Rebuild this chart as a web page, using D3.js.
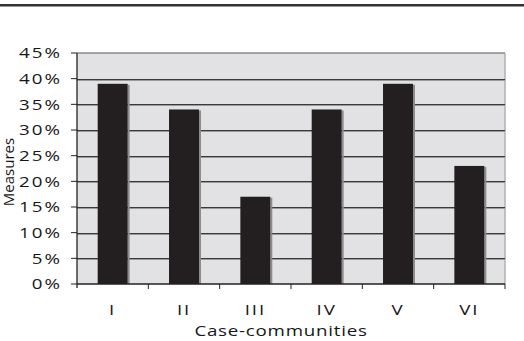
<!DOCTYPE html>
<html>
<head>
<meta charset="utf-8">
<script src="https://cdn.jsdelivr.net/npm/d3@7"></script>
<style>
body{margin:0;background:#fff;}
text{font-family:"Open Sans",sans-serif;fill:#161616;}
</style>
</head>
<body>
<div id="graph"></div>
<script>
var width=524;
var height=341;

// data
var communities=['I','II','III','IV','V','VI'];
var measures=[0.39,0.34,0.17,0.34,0.39,0.23];
var yTicks=[0,0.05,0.10,0.15,0.20,0.25,0.30,0.35,0.40,0.45];
var yTitle='Measures';
var xTitle='Case-communities';

var plotL=77,plotR=505,plotT=53,plotB=284;
var stretch=1.25; // the lettering in the original is a bit wide

var svg=d3.select('#graph').append('svg').attr('width',width).attr('height',height);

// rule at the very top
svg.append('line').attr('x1',0).attr('x2',width).attr('y1',5.3).attr('y2',5.3)
	.attr('stroke','#333').attr('stroke-width',2.6);

var x=d3.scaleBand().domain(communities).range([plotL,plotR]);
var y=d3.scaleLinear().domain([0,0.45]).range([plotB,plotT]);

// plot background
svg.append('rect').attr('x',plotL).attr('y',plotT).attr('width',plotR-plotL).attr('height',plotB-plotT)
	.attr('fill','#e2e2e4');
// right + top border
svg.append('line').attr('x1',plotR).attr('x2',plotR).attr('y1',plotT).attr('y2',plotB)
	.attr('stroke','#b0b0b0').attr('stroke-width',1.5);
svg.append('line').attr('x1',plotL).attr('x2',plotR).attr('y1',y(0.45)).attr('y2',y(0.45))
	.attr('stroke','#8a8a8a').attr('stroke-width',1.5);

// gridlines with a faint shadow
var grid=yTicks.filter(function(d){return d>0&&d<0.45;});
svg.selectAll('.gshadow').data(grid).enter().append('line').attr('class','gshadow')
	.attr('x1',plotL).attr('x2',plotR)
	.attr('y1',function(d){return Math.round(y(d))+1.5;}).attr('y2',function(d){return Math.round(y(d))+1.5;})
	.attr('stroke','#999').attr('stroke-width',1);
svg.selectAll('.grid').data(grid).enter().append('line').attr('class','grid')
	.attr('x1',plotL).attr('x2',plotR)
	.attr('y1',function(d){return Math.round(y(d))+0.5;}).attr('y2',function(d){return Math.round(y(d))+0.5;})
	.attr('stroke','#3a3a3a').attr('stroke-width',1);

// bars
var bw=x.bandwidth()*0.42;
svg.selectAll('.shadow').data(measures).enter().append('rect').attr('class','shadow')
	.attr('x',function(d,i){return x(communities[i])+x.bandwidth()/2+bw/2;})
	.attr('y',function(d){return y(d)+1;})
	.attr('width',2)
	.attr('height',function(d){return plotB-y(d)-1;})
	.attr('fill','#8c8c8c');
svg.selectAll('.bar').data(measures).enter().append('rect').attr('class','bar')
	.attr('x',function(d,i){return x(communities[i])+x.bandwidth()/2-bw/2;})
	.attr('y',function(d){return y(d);})
	.attr('width',bw)
	.attr('height',function(d){return plotB-y(d);})
	.attr('fill','#231f20');

// y axis
svg.append('line').attr('x1',plotL).attr('x2',plotL).attr('y1',plotT).attr('y2',plotB+4)
	.attr('stroke','#222').attr('stroke-width',1.3);
svg.selectAll('.ytick').data(yTicks).enter().append('line').attr('class','ytick')
	.attr('x1',plotL-6).attr('x2',plotL)
	.attr('y1',function(d){return y(d);}).attr('y2',function(d){return y(d);})
	.attr('stroke','#222').attr('stroke-width',1);
svg.selectAll('.ylab').data(yTicks).enter().append('g').attr('class','ylab')
	.attr('transform',function(d){return 'translate(62,'+y(d)+') scale('+stretch+',1)';})
	.append('text').attr('dy','0.36em')
	.attr('text-anchor','end').style('font-size','15px').style('letter-spacing','1.6px')
	.text(function(d){return d3.format('.0%')(d);});

// x axis
svg.append('line').attr('x1',plotL).attr('x2',plotR).attr('y1',plotB).attr('y2',plotB)
	.attr('stroke','#222').attr('stroke-width',1.3);
svg.selectAll('.xtick').data(communities).enter().append('line').attr('class','xtick')
	.attr('x1',function(d){return x(d)+x.bandwidth();}).attr('x2',function(d){return x(d)+x.bandwidth();})
	.attr('y1',plotB).attr('y2',plotB+5)
	.attr('stroke','#222').attr('stroke-width',1);
svg.selectAll('.xlab').data(communities).enter().append('g').attr('class','xlab')
	.attr('transform',function(d){return 'translate('+(x(d)+x.bandwidth()/2)+',315) scale('+stretch+',1)';})
	.append('text').attr('text-anchor','middle').style('font-size','15px').style('letter-spacing','1.5px')
	.text(function(d){return d;});

// titles
svg.append('g').attr('transform','translate(281,336) scale('+stretch+',1)')
	.append('text').attr('text-anchor','middle')
	.style('font-size','15px').style('letter-spacing','0.6px').text(xTitle);
svg.append('text').attr('transform','translate(14,172) rotate(-90)').attr('text-anchor','middle')
	.style('font-size','15px').text(yTitle);
</script>
</body>
</html>
